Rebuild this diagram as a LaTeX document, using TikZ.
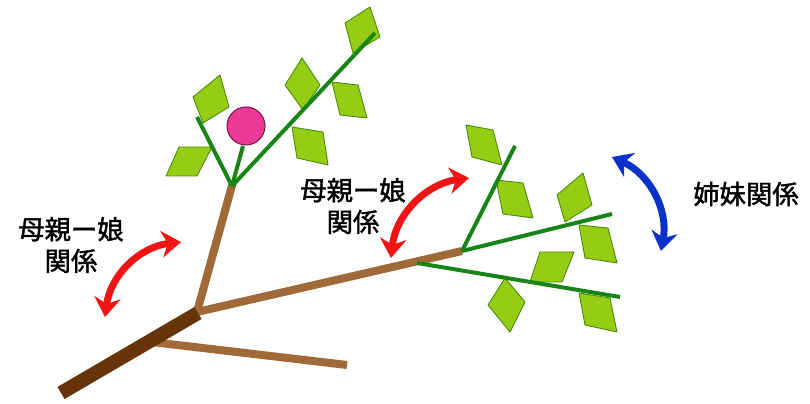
\documentclass[tikz,border=0pt]{standalone}
\usepackage{fontspec}
\usepackage{tikz}
\usetikzlibrary{arrows.meta}
\newfontfamily\jpfont{Noto Sans CJK JP}[FakeBold=1.6]
\definecolor{trunkbrown}{RGB}{102,52,8}
\definecolor{branchbrown}{RGB}{160,106,56}
\definecolor{twiggreen}{RGB}{24,132,24}
\definecolor{leafgreen}{RGB}{150,204,20}
\definecolor{leafedge}{RGB}{70,140,10}
\definecolor{budpink}{RGB}{236,56,150}
\definecolor{arrowred}{RGB}{240,20,20}
\definecolor{arrowblue}{RGB}{10,50,200}

\tikzset{
    trunk/.style={draw=trunkbrown, line width=0.28cm},
    branch/.style={draw=branchbrown, line width=0.16cm},
    twig/.style={draw=twiggreen, line width=0.08cm},
    leaf/.style={fill=leafgreen, draw=leafedge, line width=0.5pt, line join=round},
    relarrow/.style={line width=0.14cm, {Stealth[length=11pt,width=15pt,inset=3.5pt]}-{Stealth[length=11pt,width=15pt,inset=3.5pt]}},
    label/.style={font=\jpfont\fontsize{15}{18}\selectfont, align=center},
}

\begin{document}
\begin{tikzpicture}[x=0.02cm, y=-0.02cm]
    \useasboundingbox (0,0) rectangle (810,404);

    % Branches
    \draw[branch] (197,312) -- (233,182);
    \draw[branch] (197,312) -- (462,251);
    \draw[branch] (152,342) -- (347,365);
    \draw[trunk] (61,393) -- (198,313);

    % Leaves of the upper shoot
    \draw[leaf] (166,176) -- (179,147) -- (212,147) -- (197,176) -- cycle;
    \draw[leaf] (193,97) -- (220,75) -- (229,107) -- (203,123) -- cycle;
    \draw[leaf] (285,85) -- (302,58) -- (320,85) -- (303,110) -- cycle;
    \draw[leaf] (332,82) -- (358,85) -- (367,118) -- (340,115) -- cycle;
    \draw[leaf] (292,127) -- (323,132) -- (328,165) -- (297,158) -- cycle;
    \draw[leaf] (345,23) -- (370,7) -- (380,37) -- (353,53) -- cycle;

    % Leaves of the right shoots
    \draw[leaf] (466,125) -- (493,130) -- (502,165) -- (472,157) -- cycle;
    \draw[leaf] (496,180) -- (523,183) -- (533,218) -- (503,214) -- cycle;
    \draw[leaf] (557,195) -- (583,173) -- (592,205) -- (565,222) -- cycle;
    \draw[leaf] (579,225) -- (608,228) -- (617,263) -- (585,258) -- cycle;
    \draw[leaf] (540,252) -- (574,252) -- (562,282) -- (530,282) -- cycle;
    \draw[leaf] (488,305) -- (505,278) -- (525,302) -- (510,332) -- cycle;
    \draw[leaf] (579,293) -- (610,298) -- (617,332) -- (585,325) -- cycle;

    % Green twigs
    \coordinate (top) at (232,186);
    \coordinate (fork) at (462,251);
    \draw[twig] (top) -- (375,33);
    \draw[twig] (top) -- (197,117);
    \draw[twig] (top) -- (243,146);
    \draw[twig] (fork) -- (515,146);
    \draw[twig] (fork) -- (612,214);
    \draw[twig] (417,263) -- (620,297);

    % Flower bud
    \filldraw[fill=budpink, draw=budpink!50!black, line width=0.6pt] (246,126) circle (19);

    % Relation arrows
    \coordinate (ma) at (105,317);
    \coordinate (mb) at (181,242);
    \coordinate (na) at (391,258);
    \coordinate (nb) at (469,178);
    \coordinate (sa) at (612,157);
    \coordinate (sb) at (661,251);
    \draw[relarrow, arrowred] (ma) to[bend left=38] (mb);
    \draw[relarrow, arrowred] (na) to[bend left=38] (nb);
    \draw[relarrow, arrowblue] (sa) to[bend left=38] (sb);

    % Labels
    \node[label] (mother1) at (71,245) {母親ー娘\\関係};
    \node[label] (mother2) at (353,206) {母親ー娘\\関係};
    \node[label] (sister) at (746,194) {姉妹関係};
\end{tikzpicture}
\end{document}
